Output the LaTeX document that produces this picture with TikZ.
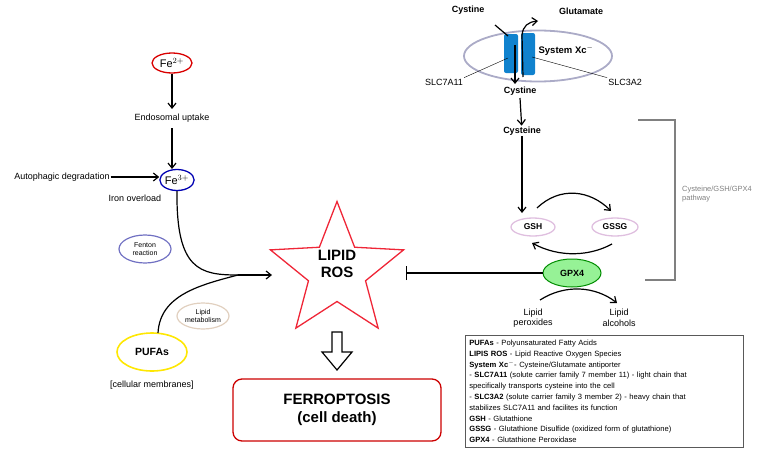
\documentclass[tikz,border=0pt]{standalone}
\usepackage{fontspec}
\setmainfont{Liberation Sans}
\usetikzlibrary{arrows.meta,shapes.geometric}
\begin{document}
\begin{tikzpicture}[x=1pt,y=-1pt,
  lab/.style={font=\fontsize{9}{10.5}\selectfont,align=center,inner sep=1pt},
  blab/.style={font=\bfseries\fontsize{9}{10}\selectfont,inner sep=1pt},
  sm/.style={font=\fontsize{7}{8}\selectfont,align=center,inner sep=0pt},
  arr/.style={-{Straight Barb[length=5pt,width=8pt]},line width=1.2pt},
  el/.style={ellipse,draw,inner sep=0pt,line width=1pt}]
\useasboundingbox (0,0) rectangle (767,455);
% iron branch
\node[el,draw=red!85!black,line width=1.3pt,minimum width=40,minimum height=20,font=\fontsize{11}{12}\selectfont] (fe2) at (172,63) {Fe$^{2+}$};
\node[lab] (endo) at (172,118) {Endosomal uptake};
\node[el,draw=blue!70!black,line width=1.3pt,minimum width=34,minimum height=21,font=\fontsize{11}{12}\selectfont] (fe3) at (177,180) {Fe$^{3+}$};
\node[lab] (auto) at (62,177) {Autophagic degradation};
\node[lab] (over) at (135,198) {Iron overload};
\draw[arr] (fe2) -- (172,109);
\draw[arr] (172,128) -- (172,169);
\draw[arr] (auto.east) -- (auto.east -| fe3.west);
\node[el,draw=blue!40!gray!80,line width=1.2pt,minimum width=52,minimum height=28,sm] (fen) at (145,249) {Fenton\\reaction};
\node[el,draw=brown!30!white!90!gray,line width=1.2pt,minimum width=52,minimum height=26,sm] (lm) at (203,316) {Lipid\\metabolism};
\node[el,draw=yellow!90!orange,line width=1.6pt,minimum width=70,minimum height=38,font=\bfseries\fontsize{10.5}{12}\selectfont] (pufa) at (152,352) {PUFAs};
\node[lab] (cm) at (152,385) {[cellular membranes]};
\coordinate (j) at (238,275);
\draw[line width=1.2pt] (fe3.south) .. controls (176,270) and (200,275) .. (j);
\draw[line width=1.2pt] (158,333) .. controls (160,295) and (200,285) .. (j);
% star
\draw[draw=red!70!purple!85!white,line width=1.3pt,shift={(337,271.5)}]
  (-90:70) \foreach \a in {-54,-18,...,234} {-- (\a: {mod(\a+90,72)==36 ? 30 : 70})} -- cycle;
\node[font=\bfseries\fontsize{15}{17}\selectfont,align=center] (ros) at (337,264) {LIPID\\ROS};
\draw[arr] (j) -- (272,275);
% hollow arrow
\draw[line width=1.2pt] (332,332) -- (342,332) -- (342,352) -- (352,352) -- (337,370) -- (322,352) -- (332,352) -- cycle;
\node[draw=red!80!black,line width=1.3pt,rounded corners=9pt,minimum width=208,minimum height=62,font=\bfseries\fontsize{15}{18}\selectfont,align=center] (fer) at (337,410) {FERROPTOSIS\\(cell death)};
% system xc
\node[blab] (cys1) at (468,10) {Cystine};
\node[blab] (glu) at (581,11) {Glutamate};
\node[el,draw=blue!20!gray!55,line width=1.8pt,minimum width=148,minimum height=51] (xc) at (538,56) {};
\fill[cyan!65!blue,rounded corners=2pt] (504,34) rectangle (518,73);
\fill[cyan!65!blue,rounded corners=2pt] (521,33) rectangle (535,75);
\node[font=\bfseries\fontsize{9.5}{10}\selectfont] (sxc) at (566,50) {System Xc$^{-}$};
\node[lab] (s7) at (444,82) {SLC7A11};
\node[lab] (s3) at (625,82) {SLC3A2};
\draw[line width=0.4pt] (s7.north east) -- (508,58);
\draw[line width=0.4pt] (s3.north west) -- (532,57);
\draw[line width=1.2pt] (495,25) -- (508,36);
\draw[arr] (515,45) -- (515,84);
\draw[arr] (523,77) -- (522,35) .. controls (523,26) and (528,22) .. (538,21);
\node[blab] (cys2) at (520,91) {Cystine};
\node[blab] (cyst) at (522,131) {Cysteine};
\draw[arr] (520,98) -- (cyst);
% GSH cycle
\node[el,draw=violet!25,line width=1.3pt,minimum width=44,minimum height=18,font=\bfseries\fontsize{8.5}{9}\selectfont] (gsh) at (533,227) {GSH};
\node[el,draw=violet!25,line width=1.3pt,minimum width=46,minimum height=18,font=\bfseries\fontsize{8.5}{9}\selectfont] (gssg) at (615,227) {GSSG};
\node[el,draw=green!55!black,fill=green!40!white!90!gray,line width=1pt,minimum width=58,minimum height=28,font=\bfseries\fontsize{9}{9}\selectfont] (gpx) at (572,273) {GPX4};
\draw[arr] (cyst) -- (522,213);
\draw[arr] (537,208) .. controls (560,186) and (590,190) .. (611,211);
\draw[arr] (612,244) .. controls (590,256) and (560,258) .. (532,243);
\draw[arr] (540,300) .. controls (565,284) and (595,286) .. (617,303);
\node[lab] (lp) at (533,318) {Lipid\\peroxides};
\node[lab] (la) at (619,318) {Lipid\\alcohols};
\draw[line width=1.2pt,-{Bar[width=14pt]}] (gpx) -- (406,273);
% bracket
\draw[gray,line width=1.2pt] (638,120) -- (675,120) -- (675,280) -- (645,280);
\node[font=\fontsize{7.5}{8.5}\selectfont,text=gray,align=left,anchor=west,inner sep=0pt] (pw) at (682,194) {Cysteine/GSH/GPX4\\pathway};
% legend
\node[draw=gray!70!black,line width=0.8pt,anchor=north west,minimum width=278,minimum height=112,text width=270,align=left,inner sep=4pt,font=\fontsize{7.6}{10.8}\selectfont] (leg) at (465,335)
{\textbf{PUFAs} - Polyunsaturated Fatty Acids\\
\textbf{LIPIS ROS} - Lipid Reactive Oxygen Species\\
\textbf{System Xc}$^{-}$- Cysteine/Glutamate antiporter\\
- \textbf{SLC7A11} (solute carrier family 7 member 11) - light chain that\\
specifically transports cysteine into the cell\\
- \textbf{SLC3A2} (solute carrier family 3 member 2) - heavy chain that\\
stabilizes SLC7A11 and facilites its function\\
\textbf{GSH} - Glutathione\\
\textbf{GSSG} - Glutathione Disulfide (oxidized form of glutathione)\\
\textbf{GPX4} - Glutathione Peroxidase};
\end{tikzpicture}
\end{document}
